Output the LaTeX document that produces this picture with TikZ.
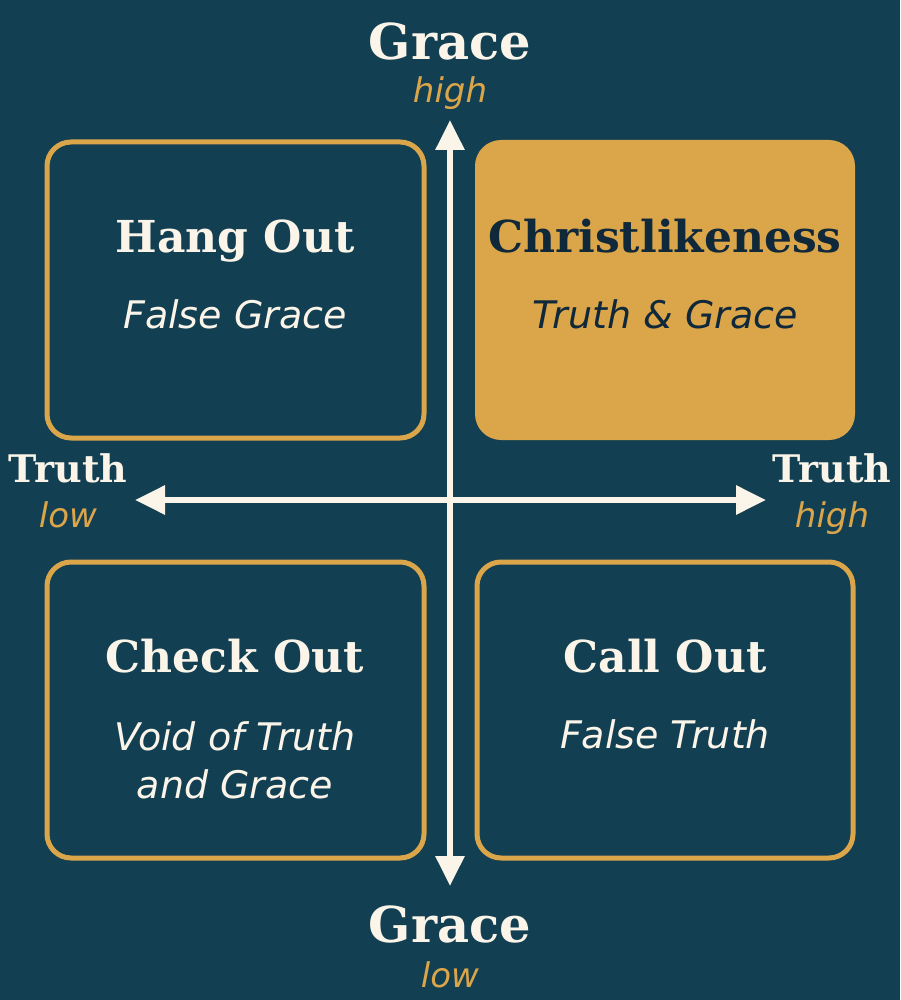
\documentclass[tikz,border=0pt]{standalone}
\usepackage{fontspec}
\setmainfont{DejaVu Serif}
\newfontfamily\subfont{DejaVu Sans}
\usetikzlibrary{arrows.meta}
\definecolor{navy}{HTML}{133F53}
\definecolor{gold}{HTML}{DBA54A}
\definecolor{cream}{HTML}{FAF5E8}
\definecolor{ink}{HTML}{10293A}
\tikzset{
  quad/.style={draw=gold, line width=5pt, rounded corners=24pt},
  title/.style={anchor=base, text=cream, font=\fontsize{44}{50}\selectfont\bfseries},
  sub/.style={anchor=base, text=cream, align=center, font=\subfont\fontsize{38}{48}\selectfont\itshape},
  axlabel/.style={anchor=base, text=cream, font=\fontsize{#1}{#1}\selectfont\bfseries},
  axlevel/.style={anchor=base, text=gold, font=\subfont\fontsize{34}{40}\selectfont\itshape},
  axis/.style={cream, line width=6pt, {Triangle[length=30pt,width=28pt]}-{Triangle[length=30pt,width=28pt]}}
}
\begin{document}
\begin{tikzpicture}[x=1pt, y=-1pt]
        % Hintergrund
        \fill [navy] (0,0) rectangle (900,1000);
        \useasboundingbox (0,0) rectangle (900,1000);
        % Felder
        \draw [quad] (47,142) rectangle (424,438);
        \fill [gold, rounded corners=26pt] (475,140) rectangle (855,440);
        \draw [quad] (47,562) rectangle (424,858);
        \draw [quad] (477,562) rectangle (853,858);
        % Achsen
        \coordinate (gtop) at (450,120);
        \coordinate (gbot) at (450,886);
        \coordinate (tleft) at (135,500);
        \coordinate (tright) at (766,500);
        \draw [axis] (gbot) -- (gtop);
        \draw [axis] (tleft) -- (tright);
        % Achsenbeschriftung
        \node (gracehi) [axlabel=49.5] at (450,60) {Grace};
        \node (gracehilvl) [axlevel] at (450,103) {high};
        \node (gracelo) [axlabel=49.5] at (450,942) {Grace};
        \node (gracelolvl) [axlevel] at (450,987) {low};
        \node (truthlo) [axlabel=38] at (68,482) {Truth};
        \node (truthlolvl) [axlevel] at (68,527) {low};
        \node (truthhi) [axlabel=38] at (832,482) {Truth};
        \node (truthhilvl) [axlevel] at (832,527) {high};
        % Texte
        \node (hang) [title] at (235,252) {Hang Out};
        \node (hangsub) [sub] at (235,328) {False Grace};
        \node (christ) [title, text=ink] at (665,252) {Christlikeness};
        \node (christsub) [sub, text=ink] at (665,328) {Truth \& Grace};
        \node (check) [title] at (235,672) {Check Out};
        \node (checksub) [sub, anchor=north] at (235,718) {Void of Truth\\and Grace};
        \node (call) [title] at (665,672) {Call Out};
        \node (callsub) [sub] at (665,748) {False Truth};
\end{tikzpicture}
\end{document}
